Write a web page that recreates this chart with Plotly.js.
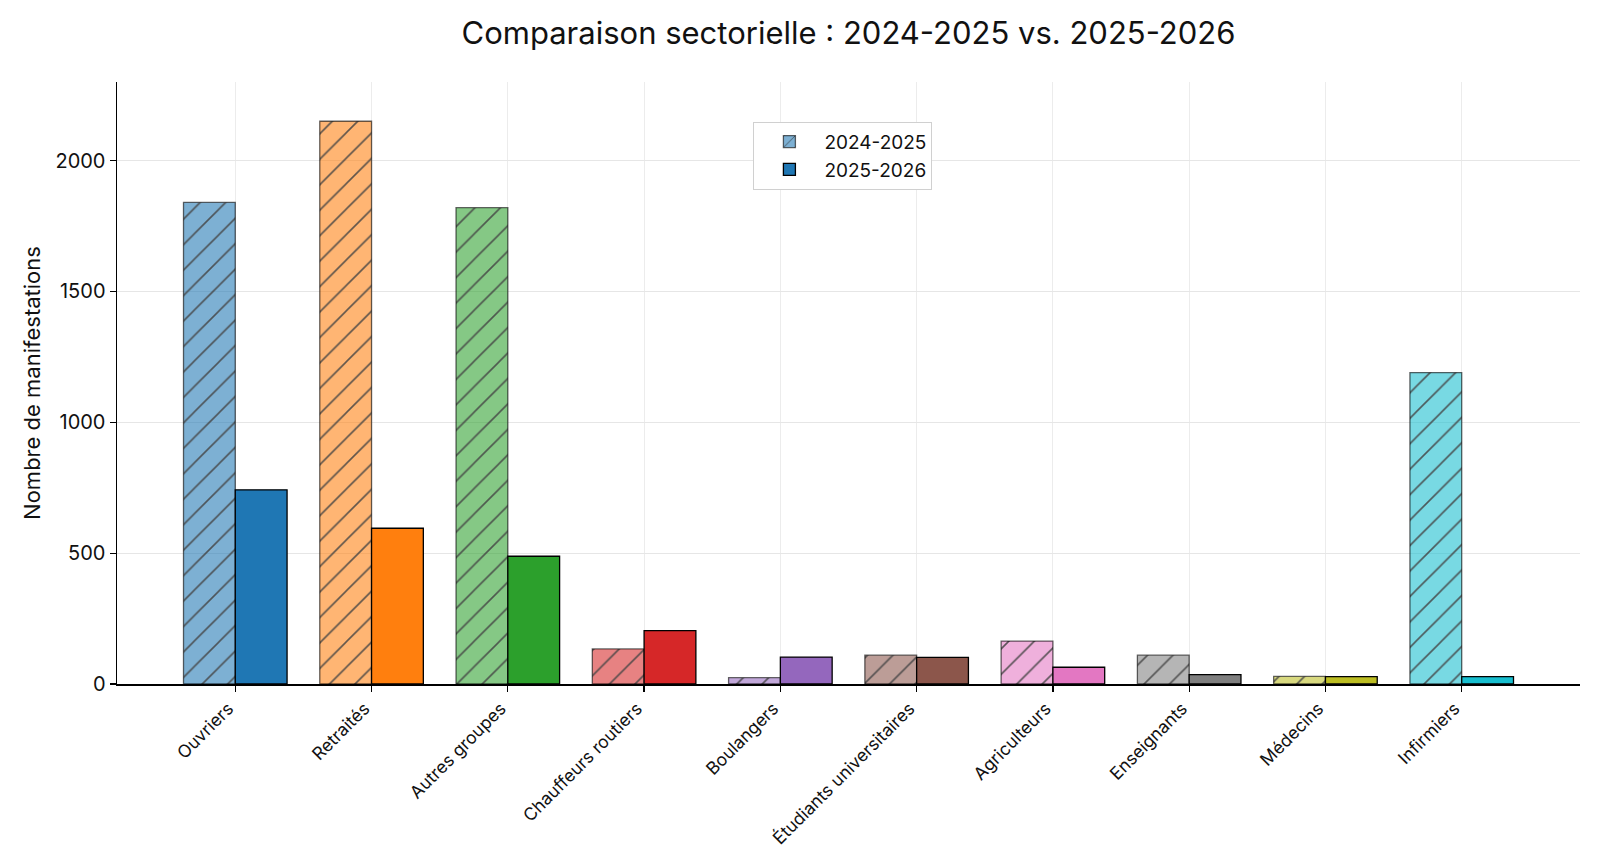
<!DOCTYPE html>
<html>
<head>
<meta charset="utf-8">
<script src="https://cdn.plot.ly/plotly-3.0.1.min.js"></script>
<style>
  html, body { margin: 0; padding: 0; background: #fff; }
  #graph { width: 1600px; height: 867px; }
</style>
</head>
<body>
<div id="graph"></div>
<script>
// Sectors, in the order they are drawn
const categories = ['Ouvriers', 'Retraités', 'Autres groupes', 'Chauffeurs routiers', 'Boulangers',
    'Étudiants universitaires', 'Agriculteurs', 'Enseignants', 'Médecins', 'Infirmiers'];

// Counts
const values2024 = [1840, 2150, 1820, 134, 24, 110, 164, 110, 29, 1190];
const values2025 = [742, 595, 488, 204, 103, 102, 64, 36, 28, 28];

// matplotlib tab10, one colour per sector
const sectorColors = ['#1f77b4', '#ff7f0e', '#2ca02c', '#d62728', '#9467bd',
    '#8c564b', '#e377c2', '#7f7f7f', '#bcbd22', '#17becf'];

const yTicks = [0, 500, 1000, 1500, 2000];

const FONT = 'Inter, "Open Sans", sans-serif';
const BAR_W = 0.38;

// hex -> rgba with alpha, for the lighter hatched bars
function fade(hex, alpha) {
    const n = parseInt(hex.slice(1), 16);
    return 'rgba(' + (n >> 16) + ',' + ((n >> 8) & 255) + ',' + (n & 255) + ',' + alpha + ')';
}

const xs = categories.map((c, i) => i);

const oldSeason = {
    type: 'bar',
    name: '2024-2025',
    x: xs,
    y: values2024,
    width: BAR_W,
    offset: -BAR_W,
    marker: {
        color: sectorColors.map(c => fade(c, 0.58)),
        line: { color: 'rgba(0,0,0,0.6)', width: 1.3 },
        // overlay: marker colour stays as the background, hatch drawn on top
        pattern: { shape: '/', fillmode: 'overlay', size: 18, solidity: 0.09, fgcolor: '#222', fgopacity: 0.85 }
    },
    hoverinfo: 'x+y'
};

const newSeason = {
    type: 'bar',
    name: '2025-2026',
    x: xs,
    y: values2025,
    width: BAR_W,
    offset: 0,
    marker: {
        color: sectorColors,
        line: { color: '#000', width: 1.3 }
    },
    hoverinfo: 'x+y'
};

const layout = {
    width: 1600,
    height: 867,
    paper_bgcolor: '#fff',
    plot_bgcolor: '#fff',
    font: { family: FONT, color: '#111', size: 17 },
    margin: { l: 117, r: 20, t: 82, b: 183, pad: 0 },
    barmode: 'overlay',
    title: {
        text: 'Comparaison sectorielle : 2024-2025 vs. 2025-2026',
        font: { size: 31, family: FONT, color: '#111' },
        x: 0.5, xref: 'paper', xanchor: 'center',
        y: 0.962, yref: 'container', yanchor: 'middle'
    },
    xaxis: {
        range: [-0.868, 9.868],
        tickvals: xs,
        ticktext: categories,
        tickangle: -45,
        ticklabelshift: -7,
        tickfont: { size: 17.5, family: FONT },
        ticks: 'outside', ticklen: 6, tickwidth: 1.2, tickcolor: '#000',
        showline: true, linecolor: '#000', linewidth: 1.5,
        showgrid: true, gridcolor: '#ececec', gridwidth: 1,
        zeroline: false
    },
    yaxis: {
        range: [0, 2300],
        tickvals: yTicks,
        tickfont: { size: 20, family: FONT },
        ticks: 'outside', ticklen: 6, tickwidth: 1.2, tickcolor: '#000',
        showline: true, linecolor: '#000', linewidth: 1.5,
        showgrid: true, gridcolor: '#e6e6e6', gridwidth: 1,
        zeroline: false,
        title: { text: 'Nombre de manifestations', font: { size: 22, family: FONT }, standoff: 8 }
    },
    legend: {
        x: 0.435, y: 0.934, xanchor: 'left', yanchor: 'top',
        bgcolor: '#fff', bordercolor: '#d0d0d0', borderwidth: 1,
        font: { size: 19, family: FONT },
        itemwidth: 60,
        traceorder: 'normal'
    },
    showlegend: true
};

Plotly.newPlot('graph', [oldSeason, newSeason], layout, { displayModeBar: false, staticPlot: true });
</script>
</body>
</html>
